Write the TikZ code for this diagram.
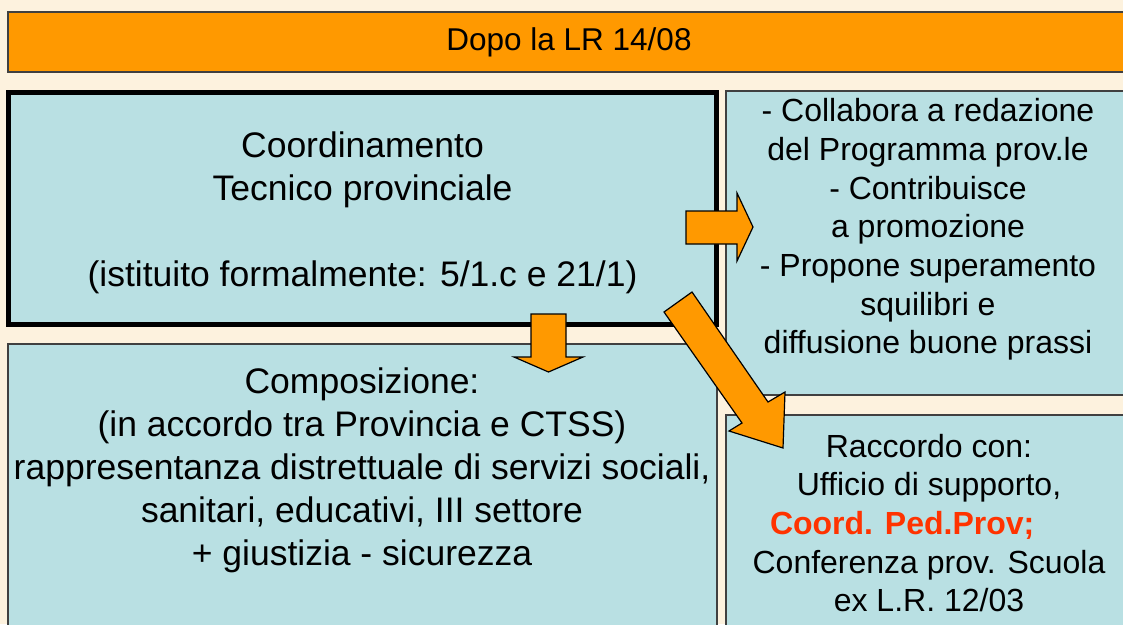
\documentclass[tikz,border=0pt]{standalone}
\usepackage{fontspec}
\setmainfont{Liberation Sans}
\usepackage{xcolor}
\usetikzlibrary{positioning}

\definecolor{sfondo}{RGB}{253,242,222}
\definecolor{azzurro}{RGB}{185,224,227}
\definecolor{arancio}{RGB}{255,153,0}
\definecolor{rosso}{RGB}{255,51,0}
\definecolor{bordo}{RGB}{64,64,64}

\begin{document}
\begin{tikzpicture}[x=1pt,y=-1pt]

        % Block definitions
        \tikzstyle{box} = [draw=bordo, line width=1.5pt, fill=azzurro, rectangle, inner sep=0pt]
        \tikzstyle{txtL} = [align=center, font=\fontsize{35.5}{43}\selectfont]
        \tikzstyle{txtR} = [align=center, font=\fontsize{32}{38.7}\selectfont]
        \tikzstyle{blockarrow} = [draw=black, line width=1.2pt, fill=arancio, line join=miter]

        % Page
        \useasboundingbox (0,0) rectangle (1123,624);
        \clip (0,0) rectangle (1123,624);
        \fill[sfondo] (0,0) rectangle (1123,624);

        % Title bar
        \node[box, fill=arancio, minimum width=1122pt, minimum height=60pt,
              font=\fontsize{31.5}{38}\selectfont] (titolo) at (569,42) {Dopo la LR 14/08};

        % Blocks
        \node[box, draw=black, line width=5pt, minimum width=707.5pt, minimum height=232pt] (coord) at (362.25,208) {};
        \node[box, minimum width=404pt, minimum height=304pt] (compiti) at (928,243) {};
        \node[box, minimum width=709pt, minimum height=296pt] (compos) at (362.5,492) {};
        \node[box, minimum width=404pt, minimum height=225pt] (raccordo) at (928,527.5) {};

        % Texts
        \node[txtL] (coordTxt) at (362.5,213) {Coordinamento\\Tecnico provinciale\\[42.5pt](istituito formalmente: 5/1.c e 21/1)};
        \node[txtR] (compitiTxt) at (928,229.5) {- Collabora a redazione\\del Programma prov.le\\- Contribuisce\\a promozione\\- Propone superamento\\squilibri e\\diffusione buone prassi};
        \node[txtL] (composTxt) at (362,470) {Composizione:\\(in accordo tra Provincia e CTSS)\\rappresentanza distrettuale di servizi sociali,\\sanitari, educativi, III settore\\+ giustizia - sicurezza};
        \node[txtR] (raccordoTxt) at (929,523) {Raccordo con:\\Ufficio di supporto,\\\makebox[318pt][l]{\bfseries\color{rosso}Coord. Ped.Prov;}\\Conferenza prov. Scuola\\ex L.R. 12/03};

        % Arrows
        \draw[blockarrow] (686,211) -- (737,211) -- (737,193) -- (753,227) -- (737,261) -- (737,244) -- (686,244) -- cycle;
        \draw[blockarrow] (531,314) -- (566,314) -- (566,357) -- (583,357) -- (548.5,372) -- (514,357) -- (531,357) -- cycle;
        \draw[blockarrow] (664,312) -- (692,292) -- (768,402) -- (785,392) -- (783,448) -- (729,431) -- (742,423) -- cycle;

\end{tikzpicture}
\end{document}
